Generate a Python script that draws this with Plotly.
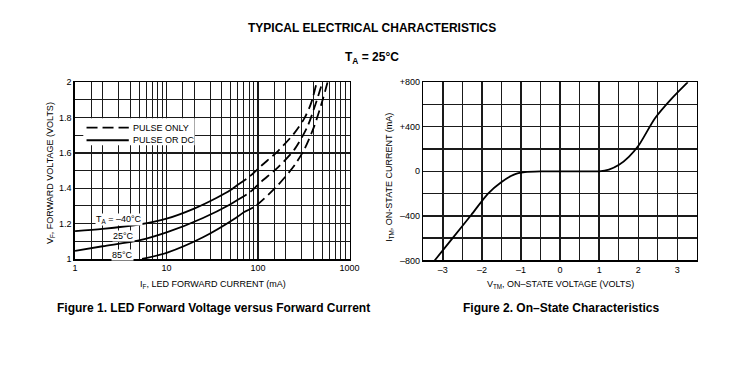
import plotly.graph_objects as go

W, H = 753, 372

# ---------------- Figure 1 data (LED forward voltage vs current) ----------------
i_m40_dc = [1, 2, 5, 10, 20, 35, 50, 60]
v_m40_dc = [1.158, 1.170, 1.195, 1.228, 1.285, 1.345, 1.39, 1.42]
i_m40_pulse = [60, 80, 110, 166, 250, 320, 377, 438]
v_m40_pulse = [1.42, 1.465, 1.53, 1.612, 1.713, 1.795, 1.877, 2.0]

i_25_dc = [1, 2, 5, 10, 25, 50, 60]
v_25_dc = [1.046, 1.072, 1.105, 1.15, 1.232, 1.31, 1.335]
i_25_pulse = [60, 80, 110, 166, 250, 347, 425, 505]
v_25_pulse = [1.335, 1.375, 1.44, 1.52, 1.62, 1.75, 1.877, 2.0]

i_85_dc = [5.4, 10, 25, 57, 70]
v_85_dc = [1.0, 1.035, 1.123, 1.232, 1.265]
i_85_pulse = [70, 94, 166, 250, 320, 410, 505, 574]
v_85_pulse = [1.265, 1.30, 1.42, 1.53, 1.62, 1.75, 1.896, 2.0]

f1_xtick_vals = [1, 10, 100, 1000]
f1_xtick_text = ["1", "10", "100", "1000"]
f1_xgrid = [1.5, 2, 3, 4, 5, 6, 7, 8, 9,
            15, 20, 30, 40, 50, 60, 70, 80, 90,
            150, 200, 300, 400, 500, 600, 700, 800, 900]
f1_ytick_vals = [1, 1.2, 1.4, 1.6, 1.8, 2]
f1_ytick_text = ["1", "1.2", "1.4", "1.6", "1.8", "2"]
f1_ygrid = [1.1, 1.3, 1.5, 1.7, 1.9]

# ---------------- Figure 2 data (on-state characteristics) ----------------
vtm = [-3.21, -2.75, -2.27, -1.85, -1.515, -1.18, -0.9, -0.5, 0, 0.5, 1.0,
       1.25, 1.51, 1.76, 2.01, 2.43, 2.85, 3.27]
itm = [-800, -600, -390, -202, -100, -29, -8, -1, 0, 0, 0,
       15, 58, 130, 231, 476, 650, 800]

f2_xtick_vals = [-3, -2, -1, 0, 1, 2, 3]
f2_xtick_text = ["–3", "–2", "–1", "0", "1", "2", "3"]
f2_xgrid = [-3.5, -2.5, -1.5, -0.5, 0.5, 1.5, 2.5, 3.5]
f2_ytick_vals = [-800, -400, 0, 400, 800]
f2_ytick_text = ["–800", "–400", "0", "+400", "+800"]
f2_ygrid = [-600, -200, 200, 600]


def px(x):
    return x / W


def py(y):
    return 1 - y / H


FONT = "Liberation Sans, Arial, sans-serif"
BLACK = "#000000"
GRID = "#1a1a1a"
LW = 1.8
DASH = "10px,5px"

fig = go.Figure()

for xs, ys in [(i_m40_dc, v_m40_dc), (i_25_dc, v_25_dc), (i_85_dc, v_85_dc)]:
    fig.add_trace(go.Scatter(x=xs, y=ys, mode="lines", xaxis="x", yaxis="y",
                             line=dict(color=BLACK, width=LW, shape="spline", smoothing=0.8),
                             showlegend=False, hoverinfo="skip"))
for xs, ys in [(i_m40_pulse, v_m40_pulse), (i_25_pulse, v_25_pulse), (i_85_pulse, v_85_pulse)]:
    fig.add_trace(go.Scatter(x=xs, y=ys, mode="lines", xaxis="x", yaxis="y",
                             line=dict(color=BLACK, width=LW, dash=DASH, shape="spline", smoothing=0.8),
                             showlegend=False, hoverinfo="skip"))

fig.add_trace(go.Scatter(x=vtm, y=itm, mode="lines", xaxis="x2", yaxis="y2",
                         line=dict(color=BLACK, width=LW, shape="spline", smoothing=0.7),
                         showlegend=False, hoverinfo="skip"))

tickfont = dict(family=FONT, size=9, color=BLACK)

common_axis = dict(showline=True, mirror=True, linecolor=BLACK, linewidth=1.6,
                   showgrid=True, gridcolor=GRID, gridwidth=1.4, zeroline=False,
                   ticks="", tickfont=tickfont, fixedrange=True)

fig.update_layout(
    width=W, height=H,
    margin=dict(l=0, r=0, t=0, b=0),
    paper_bgcolor="white", plot_bgcolor="white",
    xaxis=dict(type="log", range=[0, 3], domain=[px(73.3), px(352.7)], anchor="y",
               tickmode="array", tickvals=f1_xtick_vals, ticktext=f1_xtick_text,
               minor=dict(tickmode="array", tickvals=f1_xgrid, showgrid=True,
                          gridcolor=GRID, gridwidth=1, ticks=""),
               **common_axis),
    yaxis=dict(range=[1, 2], domain=[py(261), py(79.3)], anchor="x",
               tickmode="array", tickvals=f1_ytick_vals, ticktext=f1_ytick_text,
               minor=dict(tickmode="array", tickvals=f1_ygrid, showgrid=True,
                          gridcolor=GRID, gridwidth=1, ticks=""),
               **common_axis),
    xaxis2=dict(range=[-3.5, 3.5], domain=[px(427.7), px(706)], anchor="y2",
                tickmode="array", tickvals=f2_xtick_vals, ticktext=f2_xtick_text,
                minor=dict(tickmode="array", tickvals=f2_xgrid, showgrid=True,
                           gridcolor=GRID, gridwidth=1.4, ticks=""),
                **common_axis),
    yaxis2=dict(range=[-800, 800], domain=[py(262.5), py(79.3)], anchor="x2",
                tickmode="array", tickvals=f2_ytick_vals, ticktext=f2_ytick_text,
                minor=dict(tickmode="array", tickvals=f2_ygrid, showgrid=True,
                           gridcolor=GRID, gridwidth=1.4, ticks=""),
                **common_axis),
)

# Legend box inside figure 1
fig.add_shape(type="rect", xref="paper", yref="paper",
              x0=px(81.7), x1=px(195), y0=py(144), y1=py(116.5),
              fillcolor="white", line=dict(width=0), layer="above")
fig.add_shape(type="line", xref="paper", yref="paper",
              x0=px(85), x1=px(128), y0=py(126), y1=py(126),
              line=dict(color=BLACK, width=LW, dash="11px,5px"), layer="above")
fig.add_shape(type="line", xref="paper", yref="paper",
              x0=px(85), x1=px(128), y0=py(139), y1=py(139),
              line=dict(color=BLACK, width=LW), layer="above")

annots = []


def txt(text, x, y, size=9, bold=False, xanchor="center", bg=None, angle=0):
    t = "<b>" + text + "</b>" if bold else text
    d = dict(text=t, x=px(x), y=py(y), xref="paper", yref="paper",
             xanchor=xanchor, yanchor="middle", showarrow=False,
             font=dict(family=FONT, size=size, color=BLACK), textangle=angle)
    if bg:
        d.update(bgcolor=bg, borderpad=0)
    annots.append(d)


txt("TYPICAL ELECTRICAL CHARACTERISTICS", 375, 24, size=12, bold=True)
txt("T<sub>A</sub> = 25°C", 375, 54.5, size=12, bold=True)

txt("PULSE ONLY", 130.7, 126, xanchor="left")
txt("PULSE OR DC", 130.7, 139, xanchor="left")

txt("T<sub>A</sub> = –40°C", 118.3, 220, bg="white")
txt("25°C", 123, 237.5, bg="white")
txt("85°C", 122, 256.5, bg="white")

txt("I<sub>F</sub>, LED FORWARD CURRENT (mA)", 213.8, 287, size=9)
txt("V<sub>F</sub>, FORWARD VOLTAGE (VOLTS)", 48.5, 173, size=9, angle=-90)
txt("V<sub>TM</sub>, ON–STATE VOLTAGE (VOLTS)", 567.5, 287, size=9)
txt("I<sub>TM</sub>, ON-STATE CURRENT (mA)", 393.3, 177, size=9, angle=-90)

txt("Figure 1. LED Forward Voltage versus Forward Current", 214, 311, size=12, bold=True)
txt("Figure 2. On–State Characteristics", 568, 311, size=12, bold=True)

fig.update_layout(annotations=annots)

fig.write_html("out.html", config={"displayModeBar": False, "staticPlot": True},
               post_script="document.body.style.margin='0px';")
